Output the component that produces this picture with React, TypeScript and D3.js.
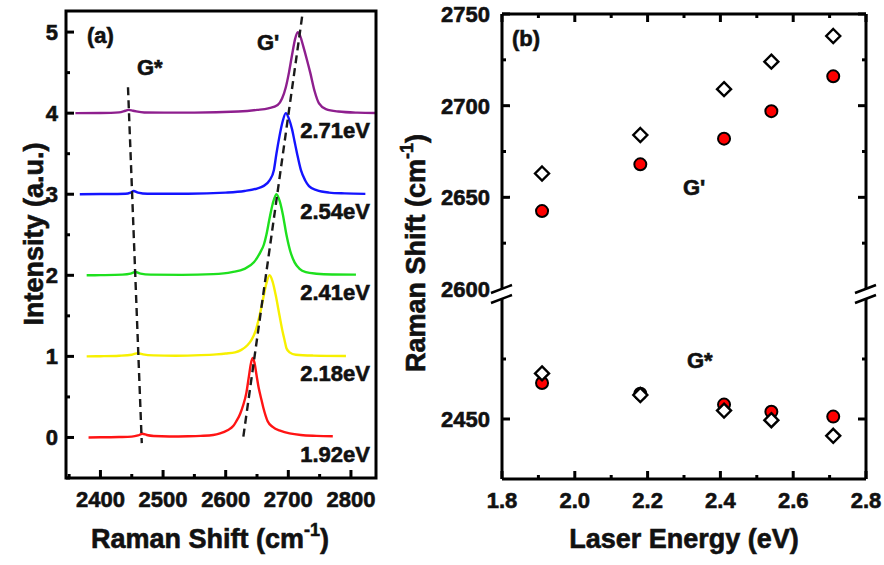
import React from 'react';
import * as d3 from 'd3';

// ---------- Panel (a): Raman spectra ----------
const spectrumLabels = ['1.92eV', '2.18eV', '2.41eV', '2.54eV', '2.71eV'];
const spectrumOffsets = [0, 1, 2, 3, 4];
const spectrumColors = ['#ff1414', '#f7f000', '#1ee01e', '#1414ff', '#8e1f8e'];

const spec192: [number, number][] = [
  [2381, 0], [2400, 0.002], [2430, 0.005], [2450, 0.01], [2460, 0.025], [2467, 0.045], [2474, 0.03],
  [2485, 0.018], [2510, 0.012], [2540, 0.015], [2560, 0.02], [2580, 0.03], [2591, 0.05], [2603, 0.09],
  [2612, 0.14], [2617, 0.2], [2623, 0.29], [2628, 0.4], [2633, 0.55], [2637, 0.75], [2640, 0.9],
  [2643, 0.98], [2646, 0.92], [2649, 0.78], [2653, 0.6], [2656, 0.5], [2660, 0.37], [2667, 0.2],
  [2675, 0.13], [2688, 0.08], [2702, 0.05], [2720, 0.03], [2745, 0.02], [2771, 0.015],
];
const spec218: [number, number][] = [
  [2378, 0], [2400, 0.002], [2430, 0.008], [2450, 0.02], [2460, 0.04], [2468, 0.025], [2485, 0.012],
  [2520, 0.008], [2560, 0.015], [2585, 0.025], [2600, 0.035], [2615, 0.05], [2625, 0.08], [2635, 0.14],
  [2641, 0.2], [2648, 0.32], [2654, 0.5], [2660, 0.72], [2665, 0.9], [2670, 1.0], [2675, 0.92],
  [2680, 0.75], [2686, 0.5], [2691, 0.3], [2694, 0.2], [2697, 0.1], [2702, 0.05], [2712, 0.02],
  [2740, 0.01], [2792, 0.005],
];
const spec241: [number, number][] = [
  [2378, 0], [2400, 0.002], [2435, 0.008], [2448, 0.02], [2456, 0.04], [2464, 0.02], [2480, 0.008],
  [2530, 0.005], [2580, 0.015], [2610, 0.04], [2630, 0.08], [2645, 0.16], [2655, 0.28], [2661, 0.38],
  [2665, 0.5], [2670, 0.7], [2675, 0.88], [2681, 1.0], [2686, 0.92], [2691, 0.76], [2697, 0.5],
  [2703, 0.3], [2710, 0.16], [2718, 0.08], [2728, 0.04], [2745, 0.02], [2770, 0.01], [2808, 0.008],
];
const spec254: [number, number][] = [
  [2367, 0], [2400, 0.002], [2440, 0.006], [2448, 0.02], [2453, 0.04], [2460, 0.02], [2475, 0.006],
  [2540, 0.006], [2600, 0.02], [2630, 0.04], [2650, 0.07], [2660, 0.1], [2670, 0.17], [2677, 0.3],
  [2681, 0.5], [2686, 0.72], [2691, 0.9], [2696, 1.0], [2701, 0.93], [2706, 0.8], [2710, 0.65],
  [2714, 0.5], [2720, 0.3], [2727, 0.17], [2733, 0.1], [2745, 0.05], [2765, 0.02], [2790, 0.01],
  [2823, 0.005],
];
const spec271: [number, number][] = [
  [2360, 0], [2400, 0.002], [2430, 0.01], [2440, 0.03], [2445, 0.04], [2452, 0.03], [2470, 0.008],
  [2550, 0.006], [2620, 0.02], [2650, 0.04], [2668, 0.06], [2683, 0.1], [2690, 0.18], [2696, 0.32],
  [2701, 0.5], [2706, 0.72], [2711, 0.92], [2715, 1.0], [2719, 0.95], [2724, 0.82], [2730, 0.65],
  [2735, 0.5], [2742, 0.27], [2749, 0.12], [2760, 0.05], [2780, 0.02], [2810, 0.006], [2840, 0.002],
];
const spectra = [spec192, spec218, spec241, spec254, spec271];

const gStarGuide: [number, number][] = [[2444, 4.32], [2466, -0.07]];
const gPrimeGuide: [number, number][] = [[2722, 5.19], [2628, 0.0]];

const shiftTicks = [2400, 2500, 2600, 2700, 2800];
const intensityTicks = [0, 1, 2, 3, 4, 5];

// ---------- Panel (b): dispersion ----------
const laserEnergy = [1.91, 2.18, 2.41, 2.54, 2.71];
const gPrimeOpen = [2663, 2684, 2709, 2724, 2738];
const gPrimeFilled = [2642.5, 2668, 2682, 2697, 2716];
const gStarOpen = [2488, 2470, 2457, 2449, 2436];
const gStarFilled = [2480, 2471, 2462, 2456, 2452];

const energyTicks = [1.8, 2.0, 2.2, 2.4, 2.6, 2.8];
const upperShiftTicks = [2600, 2650, 2700, 2750];
const upperMinorTicks = [2625, 2675, 2725];
const lowerShiftTicks = [2450];
const lowerMinorTicks = [2500];

const FONT = '"Liberation Sans", Arial, Helvetica, sans-serif';

export default function App() {
  // Panel a geometry
  const aL = 66, aR = 376, aT = 11, aB = 478;
  const xa = d3.scaleLinear().domain([2345, 2840]).range([aL, aR]);
  const ya = d3.scaleLinear().domain([-0.5, 5.26]).range([aB, aT]);

  // Panel b geometry
  const bL = 502, bR = 866, bT = 14, bB = 479;
  const xb = d3.scaleLinear().domain([1.8, 2.8]).range([bL, bR]);
  const ybUp = d3.scaleLinear().domain([2600, 2750]).range([289, bT]);
  const ybLo = d3.scaleLinear().domain([2400, 2550]).range([bB, 299]);
  const yb = (v: number) => (v >= 2575 ? ybUp(v) : ybLo(v));

  const lineGen = (off: number) =>
    d3.line<[number, number]>()
      .x(d => xa(d[0]))
      .y(d => ya(d[1] + off))
      .curve(d3.curveMonotoneX);

  const guide = d3.line<[number, number]>().x(d => xa(d[0])).y(d => ya(d[1]));

  const aMinorX = d3.range(2350, 2840, 50).filter(v => v % 100 !== 0);
  const aMinorY = d3.range(-0.5, 5.26, 1);
  const bMinorX = d3.range(1.9, 2.8, 0.2);

  const diamond = 'M0,-7L7,0L0,7L-7,0Z';
  const txt = { fontFamily: FONT, fontWeight: 700, fill: '#111', stroke: '#111', strokeWidth: 0.6 } as const;

  const breakY1 = 289, breakY2 = 299;

  return (
    <svg width={884} height={565} style={{ position: 'absolute', left: 0, top: 0, background: '#fff' }}>
      <rect x={0} y={0} width={884} height={565} fill="#fff" />

      {/* ---------------- Panel (a) ---------------- */}
      <g>
        {spectra.map((s, i) => (
          <path key={i} d={lineGen(spectrumOffsets[i])(s) || ''} fill="none"
            stroke={spectrumColors[i]} strokeWidth={2.4} />
        ))}
        <path d={guide(gStarGuide) || ''} stroke="#1a1a1a" strokeWidth={2.4} strokeDasharray="8,5" fill="none" />
        <path d={guide(gPrimeGuide) || ''} stroke="#1a1a1a" strokeWidth={2.4} strokeDasharray="8,5" fill="none" />

        {/* ticks */}
        {intensityTicks.map(t => (
          <line key={'ay' + t} x1={aL} x2={aL + 8} y1={ya(t)} y2={ya(t)} stroke="#000" strokeWidth={3} />
        ))}
        {aMinorY.map(t => (
          <line key={'aym' + t} x1={aL} x2={aL + 4} y1={ya(t)} y2={ya(t)} stroke="#000" strokeWidth={3} />
        ))}
        {shiftTicks.map(t => (
          <line key={'ax' + t} x1={xa(t)} x2={xa(t)} y1={aB} y2={aB - 8} stroke="#000" strokeWidth={3} />
        ))}
        {aMinorX.map(t => (
          <line key={'axm' + t} x1={xa(t)} x2={xa(t)} y1={aB} y2={aB - 4} stroke="#000" strokeWidth={3} />
        ))}
        <rect x={aL} y={aT} width={aR - aL} height={aB - aT} fill="none" stroke="#000" strokeWidth={3} />

        {intensityTicks.map(t => (
          <text key={'ayl' + t} x={58} y={ya(t) + 8} textAnchor="end" fontSize={22} {...txt}>{t}</text>
        ))}
        {shiftTicks.map(t => (
          <text key={'axl' + t} x={xa(t)} y={507} textAnchor="middle" fontSize={22} {...txt}>{t}</text>
        ))}

        {spectrumLabels.map((l, i) => (
          <text key={l} x={370} y={ya(spectrumOffsets[i]) + 25} textAnchor="end" fontSize={22} {...txt}>{l}</text>
        ))}

        <text x={87} y={43} fontSize={22} {...txt}>(a)</text>
        <text x={137} y={75} fontSize={22} {...txt}>G*</text>
        <text x={257} y={50} fontSize={22} {...txt}>G'</text>

        <text x={210} y={548} textAnchor="middle" fontSize={27} {...txt}>
          Raman Shift (cm<tspan fontSize={18} dy={-12}>-1</tspan><tspan dy={12}>)</tspan>
        </text>
        <text transform="translate(43,234) rotate(-90)" textAnchor="middle" fontSize={27} {...txt}>
          Intensity (a.u.)
        </text>
      </g>

      {/* ---------------- Panel (b) ---------------- */}
      <g>
        <line x1={bL} x2={bR} y1={bT} y2={bT} stroke="#000" strokeWidth={3} />
        <line x1={bL} x2={bR} y1={bB} y2={bB} stroke="#000" strokeWidth={3} />
        <line x1={bL} x2={bL} y1={bT} y2={breakY1} stroke="#000" strokeWidth={3} />
        <line x1={bL} x2={bL} y1={breakY2} y2={bB} stroke="#000" strokeWidth={3} />
        <line x1={bR} x2={bR} y1={bT} y2={breakY1} stroke="#000" strokeWidth={3} />
        <line x1={bR} x2={bR} y1={breakY2} y2={bB} stroke="#000" strokeWidth={3} />
        {[bL, bR].map(x => (
          <g key={'br' + x}>
            <line x1={x - 11} x2={x + 10} y1={breakY1 + 4} y2={breakY1 - 4} stroke="#000" strokeWidth={2.5} />
            <line x1={x - 11} x2={x + 10} y1={breakY2 + 4} y2={breakY2 - 4} stroke="#000" strokeWidth={2.5} />
          </g>
        ))}

        {energyTicks.map(t => (
          <g key={'bx' + t}>
            <line x1={xb(t)} x2={xb(t)} y1={bB} y2={bB - 8} stroke="#000" strokeWidth={3} />
            <line x1={xb(t)} x2={xb(t)} y1={bT} y2={bT + 8} stroke="#000" strokeWidth={3} />
          </g>
        ))}
        {bMinorX.map(t => (
          <g key={'bxm' + t}>
            <line x1={xb(t)} x2={xb(t)} y1={bB} y2={bB - 4} stroke="#000" strokeWidth={3} />
            <line x1={xb(t)} x2={xb(t)} y1={bT} y2={bT + 4} stroke="#000" strokeWidth={3} />
          </g>
        ))}
        {[...upperShiftTicks.filter(t => t !== 2600), ...lowerShiftTicks].map(t => (
          <g key={'by' + t}>
            <line x1={bL} x2={bL + 8} y1={yb(t)} y2={yb(t)} stroke="#000" strokeWidth={3} />
            <line x1={bR} x2={bR - 8} y1={yb(t)} y2={yb(t)} stroke="#000" strokeWidth={3} />
          </g>
        ))}
        {[...upperMinorTicks, ...lowerMinorTicks].map(t => (
          <g key={'bym' + t}>
            <line x1={bL} x2={bL + 4} y1={yb(t)} y2={yb(t)} stroke="#000" strokeWidth={3} />
            <line x1={bR} x2={bR - 4} y1={yb(t)} y2={yb(t)} stroke="#000" strokeWidth={3} />
          </g>
        ))}

        {laserEnergy.map((e, i) => (
          <g key={'c' + i}>
            <circle cx={xb(e)} cy={yb(gPrimeFilled[i])} r={6} fill="#ff0000" stroke="#000" strokeWidth={2} />
            <circle cx={xb(e)} cy={yb(gStarFilled[i])} r={6} fill="#ff0000" stroke="#000" strokeWidth={2} />
          </g>
        ))}
        {laserEnergy.map((e, i) => (
          <g key={'d' + i}>
            <path d={diamond} transform={`translate(${xb(e)},${yb(gPrimeOpen[i])})`} fill="#fff" stroke="#000" strokeWidth={2.4} />
            <path d={diamond} transform={`translate(${xb(e)},${yb(gStarOpen[i])})`} fill="#fff" stroke="#000" strokeWidth={2.4} />
          </g>
        ))}

        {energyTicks.map(t => (
          <text key={'bxl' + t} x={xb(t)} y={508} textAnchor="middle" fontSize={22} {...txt}>{t.toFixed(1)}</text>
        ))}
        {upperShiftTicks.map(t => (
          <text key={'byl' + t} x={490} y={ybUp(t) + 8} textAnchor="end" fontSize={22} {...txt}>{t}</text>
        ))}
        {lowerShiftTicks.map(t => (
          <text key={'byll' + t} x={490} y={ybLo(t) + 8} textAnchor="end" fontSize={22} {...txt}>{t}</text>
        ))}

        <text x={512} y={46} fontSize={22} {...txt}>(b)</text>
        <text x={683} y={195} fontSize={22} {...txt}>G'</text>
        <text x={687} y={368} fontSize={22} {...txt}>G*</text>

        <text x={684} y={548} textAnchor="middle" fontSize={27} {...txt}>Laser Energy (eV)</text>
        <text transform="translate(425,253) rotate(-90)" textAnchor="middle" fontSize={27} {...txt}>
          Raman Shift (cm<tspan fontSize={18} dy={-12}>-1</tspan><tspan dy={12}>)</tspan>
        </text>
      </g>
    </svg>
  );
}
